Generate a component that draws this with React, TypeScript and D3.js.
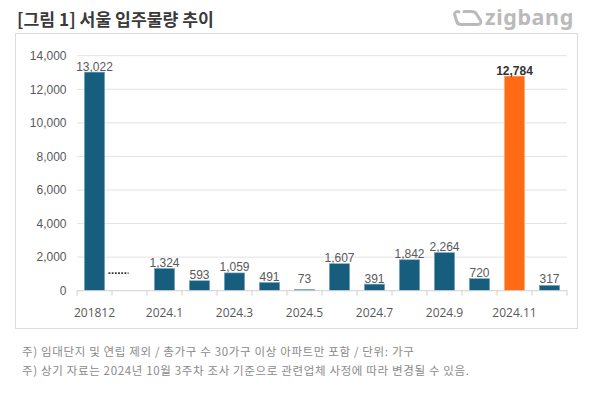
import React from "react";
import * as d3 from "d3";

const categories = ["201812", "", "2024.1", "2024.2", "2024.3", "2024.4", "2024.5", "2024.6", "2024.7", "2024.8", "2024.9", "2024.10", "2024.11", "2024.12"];
const values: (number | null)[] = [13022, null, 1324, 593, 1059, 491, 73, 1607, 391, 1842, 2264, 720, 12784, 317];
const highlightIndex = 12;
const yTicks = [0, 2000, 4000, 6000, 8000, 10000, 12000, 14000];
const xLabelIndices = [0, 2, 4, 6, 8, 10, 12];
const title = "[그림 1] 서울 입주물량 추이";
const notes = [
  "주) 임대단지 및 연립 제외 / 총가구 수 30가구 이상 아파트만 포함 / 단위: 가구",
  "주) 상기 자료는 2024년 10월 3주차 조사 기준으로 관련업체 사정에 따라 변경될 수 있음.",
];

const W = 599, H = 402;
const plot = { left: 77, right: 567, top: 55.7, bottom: 290.7 };
const BLUE = "#175d7e";
const ORANGE = "#ff6a14";
const numFont = "'Liberation Sans', Arial, sans-serif";
const krFont = "'Noto Sans CJK KR', 'Noto Sans', sans-serif";

export default function App() {
  const x = d3.scaleBand<number>().domain(categories.map((_, i) => i)).range([plot.left, plot.right]).padding(0);
  const y = d3.scaleLinear().domain([0, 14000]).range([plot.bottom, plot.top]);
  const bw = x.bandwidth() * 0.58;
  const fmt = d3.format(",");
  const boundaries = categories.map((_, i) => x(i) as number).concat([plot.right]);
  const emptyIdx = values.findIndex((v) => v === null);

  return (
    <svg width={W} height={H} style={{ position: "absolute", left: 0, top: 0, background: "#fff" }}>
      {/* Title */}
      <text x={17} y={26} fontFamily={krFont} fontWeight={700} fontSize={17.2} fill="#3a3a3a">{title}</text>
      {/* Logo */}
      <g stroke="#bababa" fill="none" strokeWidth={3} strokeLinejoin="round" strokeLinecap="round">
        <path d="M459,12 Q455.5,10.5 454.5,14 L456.5,21 Q457.5,24.5 461,24.5 L478,24.5 Q482,24 480.5,20.5 L476.5,14 Q475,11.5 471.5,11.5 L464,11.5" />
      </g>
      <text x={485} y={25} fontFamily="'Noto Sans', 'Open Sans', sans-serif" fontWeight={700} fontSize={21.5} fill="#bababa" letterSpacing={0.6}>zigbang</text>
      {/* Box */}
      <rect x={15.5} y={33.5} width={562} height={295} fill="none" stroke="#dcdcdc" />
      {/* Grid */}
      {yTicks.map((t) => (
        <g key={t}>
          {t > 0 && <line x1={plot.left} x2={plot.right} y1={y(t)} y2={y(t)} stroke="#e2e2e2" strokeWidth={1} />}
          <text x={66.5} y={y(t) + 4.3} textAnchor="end" fontFamily={numFont} fontSize={12} fill="#595959">{fmt(t)}</text>
        </g>
      ))}
      {/* Bars */}
      {values.map((v, i) =>
        v === null ? null : (
          <rect
            key={i}
            x={(x(i) as number) + (x.bandwidth() - bw) / 2}
            y={y(v)}
            width={bw}
            height={plot.bottom - y(v)}
            fill={i === highlightIndex ? ORANGE : BLUE}
            stroke={i === highlightIndex ? "#ffb27f" : "#7fa6bb"}
            strokeWidth={0.6}
          />
        )
      )}
      {/* Axis */}
      <line x1={plot.left} x2={plot.right} y1={plot.bottom} y2={plot.bottom} stroke="#d0d0d0" />
      {boundaries.map((b, i) => (
        <line key={i} x1={b} x2={b} y1={plot.bottom} y2={plot.bottom + 5} stroke="#d0d0d0" />
      ))}
      {/* Empty marker */}
      {emptyIdx >= 0 && (
        <line
          x1={(x(emptyIdx) as number) - 3.5}
          x2={(x(emptyIdx) as number) + 16.5}
          y1={y(1050)}
          y2={y(1050)}
          stroke="#333"
          strokeWidth={1.6}
          strokeDasharray="1.8,1.4"
        />
      )}
      {/* Value labels */}
      {values.map((v, i) =>
        v === null ? null : (
          <text
            key={i}
            x={(x(i) as number) + x.bandwidth() / 2}
            y={Math.min(y(v) - 1.5, y(470))}
            textAnchor="middle"
            fontFamily={numFont}
            fontSize={12}
            fontWeight={i === highlightIndex ? 700 : 400}
            fill={i === highlightIndex ? "#333" : "#595959"}
          >
            {fmt(v)}
          </text>
        )
      )}
      {/* X labels */}
      {xLabelIndices.map((i) => (
        <text key={i} x={(x(i) as number) + x.bandwidth() / 2} y={316.5} textAnchor="middle" fontFamily="'Open Sans', sans-serif" fontSize={12} fill="#595959">
          {categories[i]}
        </text>
      ))}
      {/* Notes */}
      {notes.map((n, i) => (
        <text key={i} x={22} y={355.5 + i * 19} fontFamily={krFont} fontSize={11.5} letterSpacing={0.65} fill="#8a8a8a">{n}</text>
      ))}
    </svg>
  );
}
